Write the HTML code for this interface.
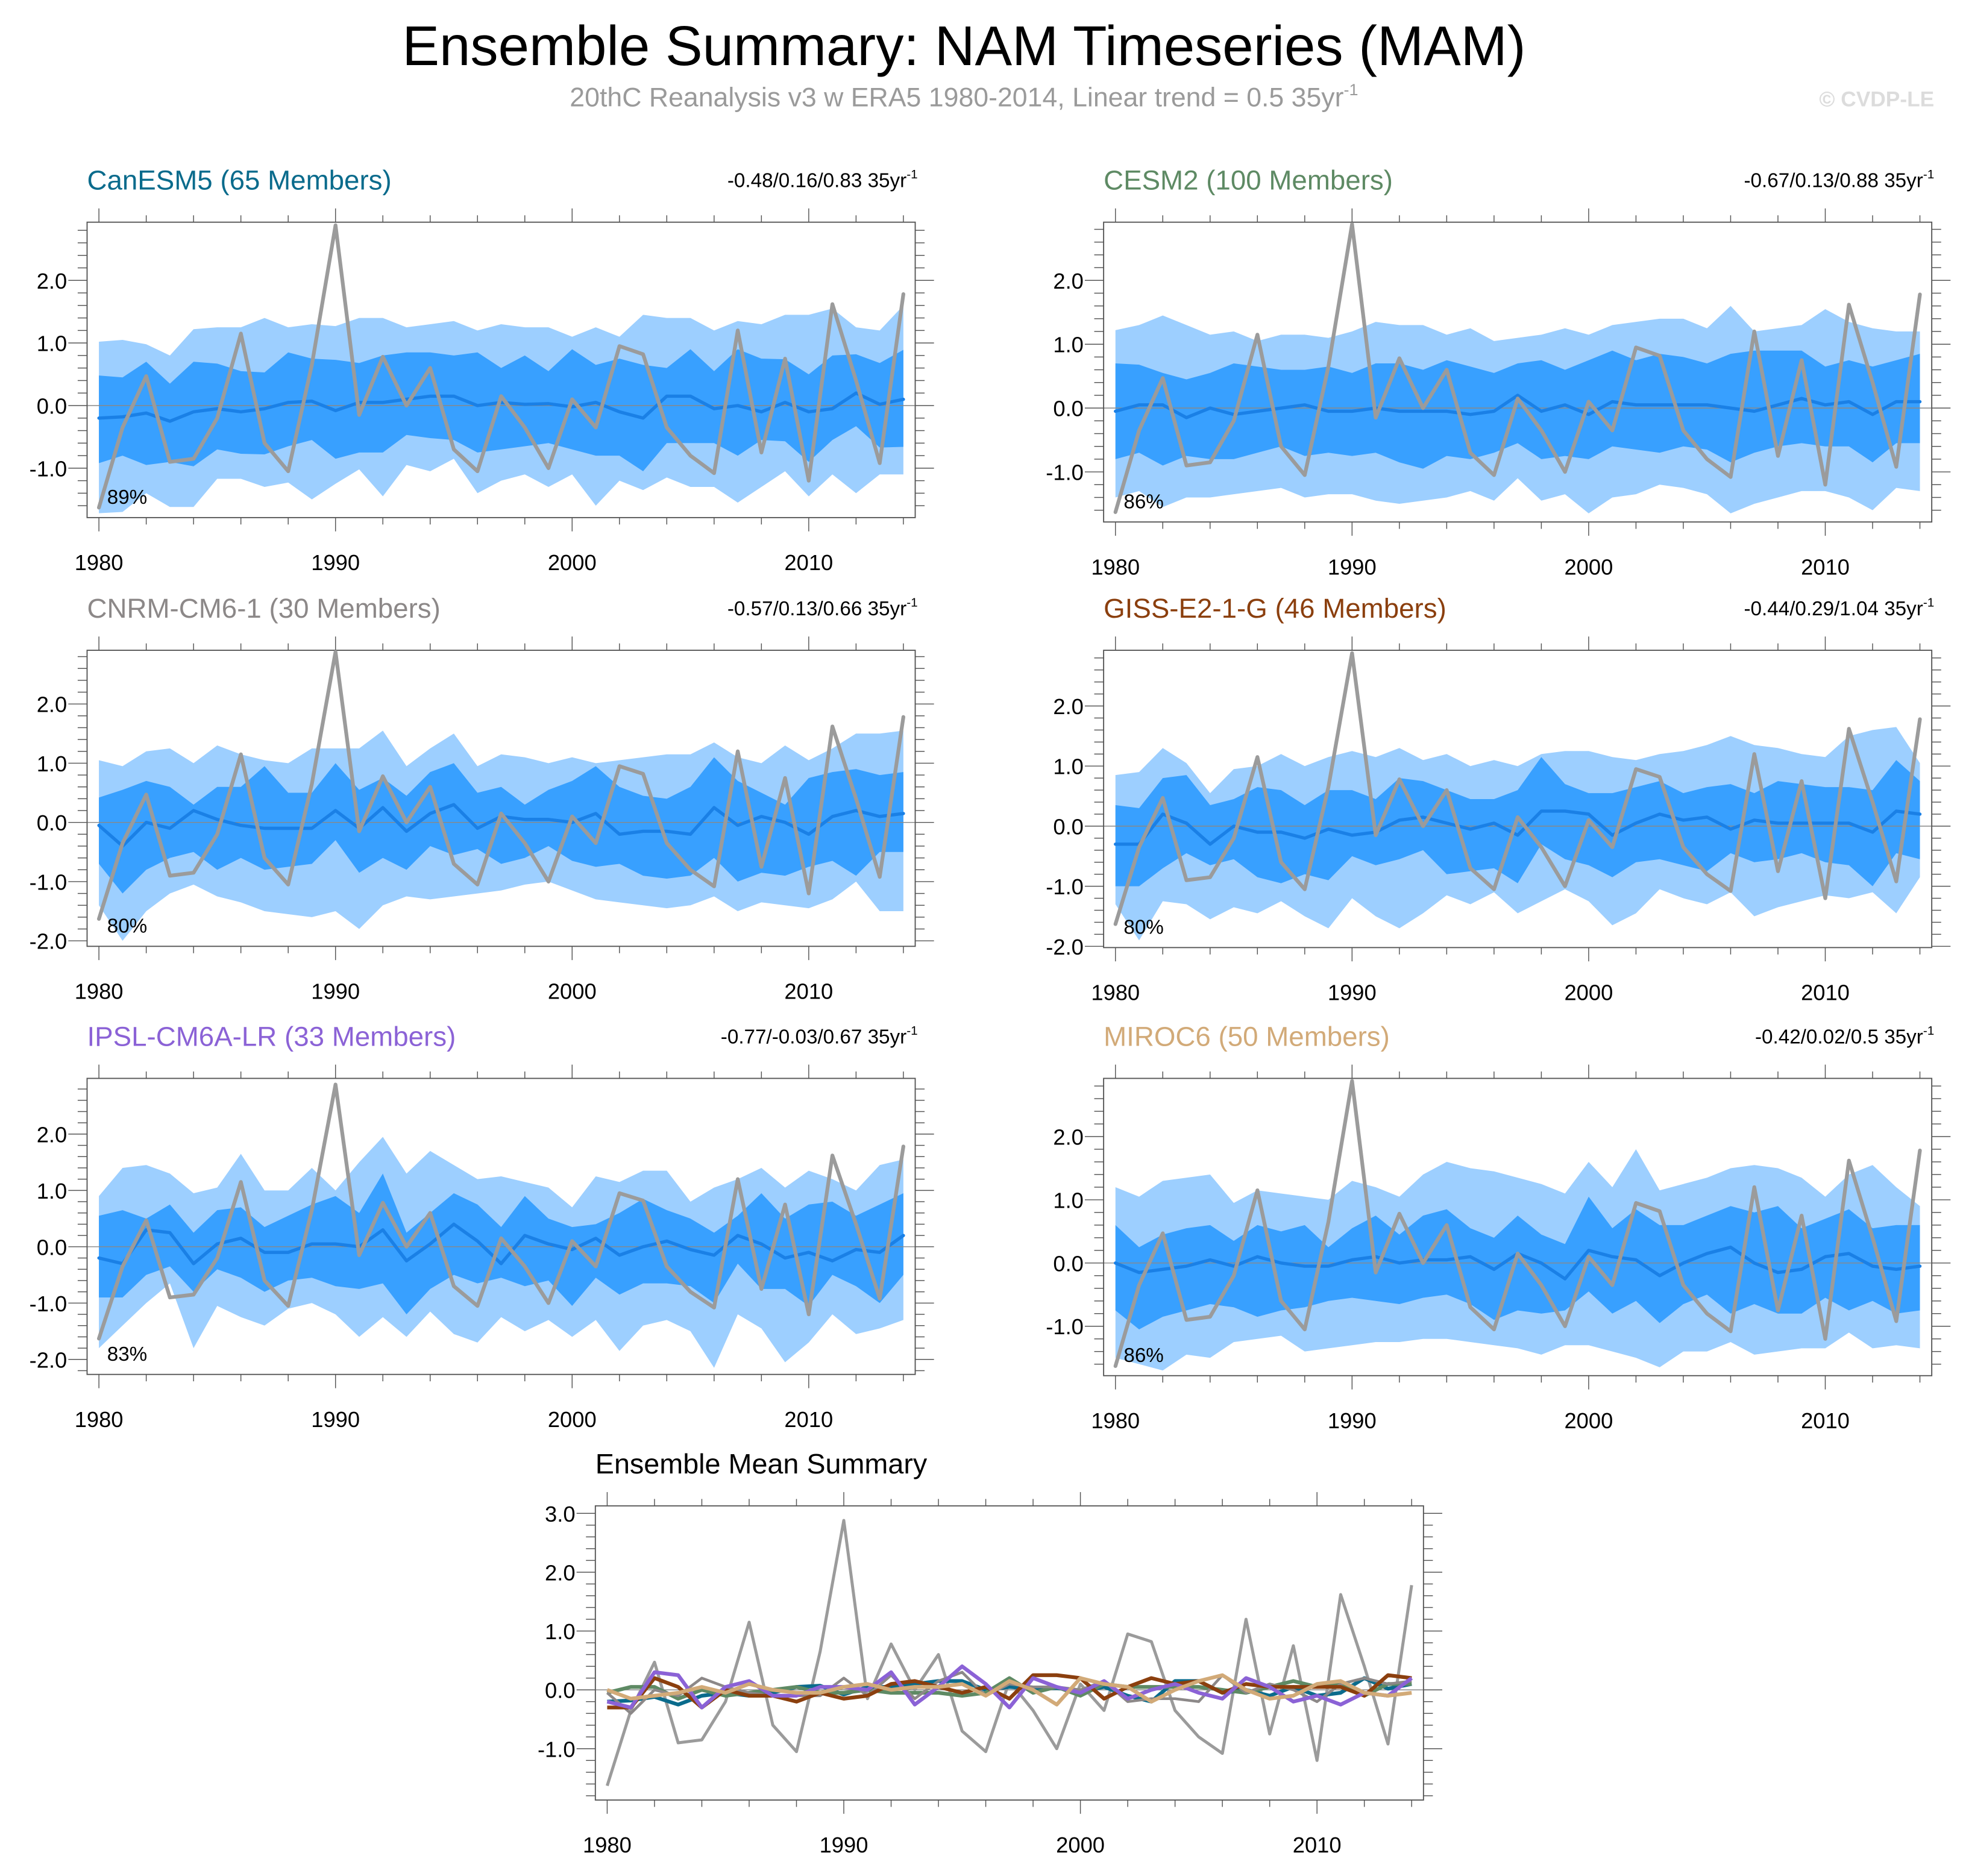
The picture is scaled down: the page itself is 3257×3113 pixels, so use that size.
<!DOCTYPE html>
<html><head><meta charset="utf-8"><style>
html,body{margin:0;padding:0;background:#fff;}
svg{display:block;font-family:"Liberation Sans",sans-serif;}
</style></head><body>
<svg id="chart" xmlns="http://www.w3.org/2000/svg" width="3257" height="3113" viewBox="0 0 1568 1498.7">
<rect width="1568" height="1499" fill="#fff"/>
<text x="770" y="52" text-anchor="middle" font-size="44.5">Ensemble Summary: NAM Timeseries (MAM)</text>
<text x="770" y="85" text-anchor="middle" font-size="21.5" fill="#9a9a9a">20thC Reanalysis v3 w ERA5 1980-2014, Linear trend = 0.5 35yr<tspan dy="-9" font-size="13">-1</tspan></text>
<text x="1545" y="85" text-anchor="end" font-size="17" font-weight="bold" fill="#dcdcdc">© CVDP-LE</text>
<g id="panels"></g>
</svg>
<script>
const years = Array.from({length:35},(_, i)=>1980+i);
const obs = [-1.63,-0.35,0.47,-0.9,-0.85,-0.2,1.15,-0.6,-1.05,0.65,2.88,-0.15,0.78,0.0,0.6,-0.7,-1.05,0.15,-0.35,-1.0,0.1,-0.35,0.95,0.82,-0.35,-0.8,-1.08,1.2,-0.75,0.75,-1.2,1.62,0.4,-0.92,1.78];

const canMean=[-0.2,-0.18,-0.12,-0.25,-0.1,-0.05,-0.1,-0.05,0.05,0.07,-0.08,0.05,0.05,0.1,0.15,0.15,0,0.05,0.02,0.03,-0.02,0.05,-0.1,-0.2,0.15,0.15,-0.05,0,-0.1,0.05,-0.1,-0.05,0.2,0.02,0.1];
const canOutHi=[1.02,1.05,0.98,0.8,1.22,1.25,1.25,1.4,1.25,1.3,1.27,1.4,1.4,1.25,1.3,1.35,1.2,1.3,1.25,1.25,1.1,1.25,1.1,1.45,1.4,1.4,1.2,1.35,1.3,1.45,1.45,1.55,1.25,1.2,1.6];
const canOutLo=[-1.72,-1.7,-1.4,-1.62,-1.62,-1.17,-1.17,-1.3,-1.23,-1.5,-1.25,-1.02,-1.45,-0.95,-1.05,-0.85,-1.4,-1.2,-1.1,-1.3,-1.1,-1.6,-1.2,-1.35,-1.15,-1.3,-1.3,-1.55,-1.3,-1.05,-1.45,-1.1,-1.4,-1.1,-1.1];
const canInHi=[0.48,0.45,0.7,0.35,0.7,0.67,0.55,0.53,0.85,0.75,0.73,0.68,0.8,0.85,0.85,0.8,0.85,0.6,0.8,0.55,0.9,0.65,0.75,0.65,0.6,0.9,0.55,0.9,0.75,0.74,0.5,0.8,0.82,0.68,0.89];
const canInLo=[-0.92,-0.8,-0.95,-0.9,-0.97,-0.7,-0.77,-0.78,-0.65,-0.55,-0.85,-0.75,-0.75,-0.47,-0.52,-0.55,-0.75,-0.7,-0.65,-0.6,-0.7,-0.8,-0.8,-1.05,-0.6,-0.6,-0.6,-0.8,-0.55,-0.57,-0.9,-0.55,-0.33,-0.67,-0.66];

const cesmMean=[-0.05,0.05,0.05,-0.15,0,-0.1,-0.05,0,0.05,-0.05,-0.05,0,-0.05,-0.05,-0.05,-0.1,-0.05,0.2,-0.05,0.05,-0.1,0.1,0.05,0.05,0.05,0.05,0,-0.05,0.05,0.15,0.05,0.1,-0.1,0.1,0.1];
const cesmOutHi=[1.22,1.3,1.45,1.3,1.15,1.2,1.05,1.15,1.15,1.1,1.2,1.35,1.3,1.3,1.15,1.25,1.05,1.1,1.15,1.25,1.15,1.3,1.35,1.4,1.4,1.25,1.6,1.2,1.25,1.3,1.55,1.35,1.25,1.2,1.2];
const cesmOutLo=[-1.4,-1.3,-1.55,-1.4,-1.4,-1.35,-1.3,-1.25,-1.4,-1.35,-1.35,-1.45,-1.5,-1.45,-1.4,-1.3,-1.45,-1.1,-1.45,-1.35,-1.65,-1.4,-1.35,-1.2,-1.25,-1.35,-1.65,-1.5,-1.4,-1.3,-1.3,-1.4,-1.6,-1.25,-1.3];
const cesmInHi=[0.7,0.68,0.55,0.45,0.55,0.7,0.65,0.6,0.6,0.65,0.55,0.7,0.7,0.6,0.75,0.65,0.55,0.7,0.75,0.6,0.75,0.9,0.75,0.85,0.8,0.7,0.85,0.9,0.9,0.9,0.65,0.75,0.65,0.75,0.85];
const cesmInLo=[-0.8,-0.7,-0.9,-0.75,-0.8,-0.8,-0.7,-0.6,-0.75,-0.7,-0.75,-0.7,-0.85,-0.95,-0.75,-0.8,-0.7,-0.55,-0.8,-0.75,-0.8,-0.6,-0.65,-0.7,-0.6,-0.65,-0.85,-0.7,-0.6,-0.55,-0.6,-0.6,-0.85,-0.55,-0.55];

const cnrmMean=[-0.05,-0.4,0,-0.1,0.2,0.05,-0.05,-0.1,-0.1,-0.1,0.2,-0.1,0.25,-0.15,0.15,0.3,-0.1,0.1,0.05,0.05,0,0.15,-0.2,-0.15,-0.15,-0.2,0.25,-0.05,0.1,0,-0.2,0.1,0.2,0.1,0.15];
const cnrmOutHi=[1.05,0.95,1.2,1.25,1.0,1.3,1.15,1.05,1.0,1.25,1.25,1.25,1.55,0.95,1.25,1.5,0.95,1.15,1.1,1.0,1.1,1.0,1.05,1.1,1.15,1.15,1.35,1.1,1.0,1.3,1.05,1.25,1.5,1.5,1.55];
const cnrmOutLo=[-1.4,-2.0,-1.5,-1.2,-1.05,-1.25,-1.35,-1.5,-1.55,-1.6,-1.5,-1.8,-1.4,-1.25,-1.3,-1.25,-1.2,-1.15,-1.05,-1.0,-1.15,-1.3,-1.35,-1.4,-1.45,-1.4,-1.25,-1.5,-1.35,-1.4,-1.45,-1.3,-1.0,-1.5,-1.5];
const cnrmInHi=[0.42,0.55,0.7,0.6,0.3,0.6,0.6,0.95,0.5,0.5,1.0,0.55,0.75,0.45,0.85,1.0,0.5,0.6,0.3,0.55,0.7,0.95,0.6,0.45,0.4,0.6,1.1,0.7,0.5,0.3,0.75,0.85,0.9,0.8,0.85];
const cnrmInLo=[-0.7,-1.2,-0.8,-0.6,-0.5,-0.8,-0.6,-0.8,-0.75,-0.7,-0.3,-0.85,-0.6,-0.8,-0.4,-0.55,-0.45,-0.7,-0.6,-0.4,-0.65,-0.75,-0.7,-0.9,-0.95,-0.9,-0.6,-1.0,-0.85,-0.9,-0.75,-0.65,-0.9,-0.5,-0.5];

const gissMean=[-0.3,-0.3,0.2,0.05,-0.3,0,-0.1,-0.1,-0.2,-0.05,-0.15,-0.1,0.1,0.15,0.05,-0.05,0.05,-0.15,0.25,0.25,0.2,-0.15,0.05,0.2,0.1,0.15,-0.05,0.1,0.05,0.05,0.05,0.05,-0.1,0.25,0.2];
const gissOutHi=[0.85,0.9,1.3,1.05,0.55,0.95,1.0,1.2,1.0,1.15,1.25,1.15,1.3,1.1,1.2,1.0,1.1,1.0,1.2,1.25,1.25,1.15,1.1,1.2,1.25,1.35,1.5,1.35,1.3,1.2,1.15,1.5,1.6,1.65,1.05];
const gissOutLo=[-1.3,-1.9,-1.25,-1.3,-1.55,-1.35,-1.45,-1.25,-1.5,-1.7,-1.2,-1.5,-1.7,-1.45,-1.15,-1.3,-1.1,-1.45,-1.25,-1.05,-1.25,-1.65,-1.45,-1.05,-1.2,-1.3,-1.1,-1.5,-1.35,-1.25,-1.15,-1.2,-1.1,-1.45,-0.85];
const gissInHi=[0.35,0.3,0.8,0.85,0.35,0.45,0.65,0.6,0.35,0.6,0.6,0.45,0.8,0.75,0.6,0.45,0.45,0.6,1.15,0.7,0.55,0.55,0.65,0.75,0.55,0.65,0.7,0.55,0.75,0.7,0.65,0.65,0.6,1.1,0.75];
const gissInLo=[-1.0,-1.0,-0.7,-0.45,-0.65,-0.55,-0.85,-0.95,-0.8,-0.9,-0.5,-0.65,-0.55,-0.4,-0.8,-0.75,-0.7,-0.95,-0.3,-0.55,-0.65,-0.85,-0.6,-0.55,-0.65,-0.75,-0.45,-0.6,-0.55,-0.45,-0.6,-0.65,-1.0,-0.45,-0.55];

const ipslMean=[-0.2,-0.3,0.3,0.25,-0.3,0.05,0.15,-0.1,-0.1,0.05,0.05,0.0,0.3,-0.25,0.05,0.4,0.1,-0.3,0.2,0.05,-0.05,0.15,-0.15,0.0,0.1,-0.05,-0.15,0.2,0.05,-0.2,-0.1,-0.25,-0.05,-0.1,0.2];
const ipslOutHi=[0.9,1.4,1.45,1.3,0.95,1.05,1.65,1.0,1.0,1.4,1.0,1.5,1.95,1.3,1.7,1.45,1.2,1.25,1.15,1.05,0.7,1.25,1.15,1.35,1.35,0.8,1.05,1.2,1.4,1.05,1.35,1.2,1.0,1.45,1.55];
const ipslOutLo=[-1.8,-1.4,-1.0,-0.65,-1.8,-1.05,-1.25,-1.4,-1.1,-1.0,-1.2,-1.6,-1.25,-1.6,-1.15,-1.55,-1.7,-1.25,-1.5,-1.3,-1.6,-1.3,-1.85,-1.4,-1.3,-1.5,-2.15,-1.2,-1.45,-2.05,-1.7,-1.2,-1.55,-1.45,-1.3];
const ipslInHi=[0.55,0.65,0.5,0.75,0.25,0.65,0.7,0.35,0.55,0.75,0.9,0.6,1.3,0.25,0.6,0.95,0.75,0.35,0.9,0.5,0.35,0.4,0.6,0.85,0.65,0.5,0.25,0.55,0.95,0.5,0.75,0.8,0.55,0.75,0.95];
const ipslInLo=[-0.9,-0.9,-0.5,-0.35,-0.8,-0.4,-0.55,-0.8,-0.6,-0.55,-0.7,-0.75,-0.65,-1.2,-0.75,-0.5,-0.65,-0.55,-0.7,-0.6,-1.05,-0.55,-0.85,-0.65,-0.65,-0.7,-1.0,-0.3,-0.75,-0.75,-1.05,-0.5,-0.7,-1.0,-0.5];

const mirocMean=[0,-0.15,-0.1,-0.05,0.05,-0.05,0.1,0,-0.05,-0.05,0.05,0.1,0,0.05,0.05,0.1,-0.1,0.15,0,-0.25,0.2,0.1,0.05,-0.2,0,0.15,0.25,0,-0.15,-0.1,0.1,0.15,-0.05,-0.1,-0.05];
const mirocOutHi=[1.2,1.05,1.3,1.35,1.4,0.95,1.15,1.1,1.05,1.0,1.3,1.2,1.05,1.4,1.6,1.5,1.45,1.35,1.25,1.1,1.6,1.2,1.8,1.15,1.25,1.35,1.5,1.55,1.5,1.35,1.05,1.4,1.55,1.2,0.9];
const mirocOutLo=[-1.5,-1.6,-1.7,-1.45,-1.5,-1.25,-1.2,-1.15,-1.4,-1.35,-1.3,-1.25,-1.25,-1.2,-1.2,-1.25,-1.3,-1.35,-1.45,-1.3,-1.3,-1.4,-1.5,-1.65,-1.4,-1.4,-1.25,-1.45,-1.4,-1.35,-1.35,-1.1,-1.35,-1.3,-1.35];
const mirocInHi=[0.6,0.25,0.45,0.55,0.6,0.35,0.6,0.5,0.6,0.25,0.55,0.75,0.45,0.75,0.85,0.55,0.4,0.75,0.45,0.3,1.05,0.55,0.85,0.6,0.6,0.75,0.9,0.8,0.9,0.55,0.7,0.85,0.55,0.6,0.6];
const mirocInLo=[-0.75,-1.05,-0.85,-0.75,-0.65,-0.7,-0.85,-0.75,-0.7,-0.6,-0.55,-0.6,-0.65,-0.55,-0.5,-0.65,-0.9,-0.75,-0.8,-0.75,-0.45,-0.8,-0.6,-0.95,-0.65,-0.5,-0.8,-0.65,-0.8,-0.8,-0.55,-0.75,-0.6,-0.8,-0.75];

const modelNames=["CanESM5 (65 Members)","CESM2 (100 Members)","CNRM-CM6-1 (30 Members)","GISS-E2-1-G (46 Members)","IPSL-CM6A-LR (33 Members)","MIROC6 (50 Members)"];
const modelColors=["#0a6b8c","#5e8a64","#8c8888","#8b3f0e","#8b62d6","#d2aa78"];
const trendLabels=["-0.48/0.16/0.83","-0.67/0.13/0.88","-0.57/0.13/0.66","-0.44/0.29/1.04","-0.77/-0.03/0.67","-0.42/0.02/0.5"];
const pctLabels=["89%","86%","80%","80%","83%","86%"];
const xTickLabels=[1980,1990,2000,2010];
const yLabelSets=[[-1,0,1,2],[-1,0,1,2],[-2,-1,0,1,2],[-2,-1,0,1,2],[-2,-1,0,1,2],[-1,0,1,2]];

const means=[canMean,cesmMean,cnrmMean,gissMean,ipslMean,mirocMean];
const outHi=[canOutHi,cesmOutHi,cnrmOutHi,gissOutHi,ipslOutHi,mirocOutHi];
const outLo=[canOutLo,cesmOutLo,cnrmOutLo,gissOutLo,ipslOutLo,mirocOutLo];
const inHi=[canInHi,cesmInHi,cnrmInHi,gissInHi,ipslInHi,mirocInHi];
const inLo=[canInLo,cesmInLo,cnrmInLo,gissInLo,ipslInLo,mirocInLo];

const NS="http://www.w3.org/2000/svg";
const root=document.getElementById('panels');
function mk(tag,attrs,parent,text){const e=document.createElementNS(NS,tag);for(const k in attrs)e.setAttribute(k,attrs[k]);if(text!==undefined)e.textContent=text;parent.appendChild(e);return e;}

const geo=[
 {x0:79,top:177.5,bot:413.5,zero:324,ppu:50},
 {x0:891,top:177.5,bot:417,zero:326,ppu:51},
 {x0:79,top:519.5,bot:756,zero:657,ppu:47.3},
 {x0:891,top:519.5,bot:757,zero:660,ppu:48},
 {x0:79,top:861.5,bot:1098,zero:996,ppu:45},
 {x0:891,top:861.5,bot:1099,zero:1009,ppu:50.5}
];
const PPY=18.9;

function drawAxes(g,gm,yLabels){
  const xs=y=>gm.x0+(y-1980)*PPY;
  const ys=v=>gm.zero-v*gm.ppu;
  const L=xs(1979.5),R=xs(2014.5);
  const zl=mk('line',{x1:L,x2:R,y1:ys(0),y2:ys(0),stroke:'#888','stroke-width':0.7},g);
  
  
  mk('rect',{x:L,y:gm.top,width:R-L,height:gm.bot-gm.top,fill:'none',stroke:'#555','stroke-width':0.9},g);
  for(let y=1980;y<=2014;y+=2){
    const maj=(y%10===0);const len=maj?11:5.5;
    mk('line',{x1:xs(y),x2:xs(y),y1:gm.top,y2:gm.top-len,stroke:'#555','stroke-width':0.7},g);
    mk('line',{x1:xs(y),x2:xs(y),y1:gm.bot,y2:gm.bot+len,stroke:'#555','stroke-width':0.7},g);
  }
  xTickLabels.forEach(t=>{
    const tx=mk('text',{x:xs(t),y:gm.bot+42,'text-anchor':'middle','font-size':17.5},g,String(t));
    
    
  });
  const vmin=(gm.zero-gm.bot)/gm.ppu, vmax=(gm.zero-gm.top)/gm.ppu;
  for(let k=Math.ceil(vmin*5-1e-6);k<=Math.floor(vmax*5+1e-6);k++){
    const v=k/5;const maj=(k%5===0);const len=maj?15:7.5;
    mk('line',{x1:L,x2:L-len,y1:ys(v),y2:ys(v),stroke:'#555','stroke-width':0.7},g);
    mk('line',{x1:R,x2:R+len,y1:ys(v),y2:ys(v),stroke:'#555','stroke-width':0.7},g);
  }
  yLabels.forEach(v=>{
    const tx=mk('text',{x:L-16,y:ys(v)+6.5,'text-anchor':'end','font-size':17.5},g,v.toFixed(1));
    
    
  });
  return {xs,ys,L,R};
}
function linePath(arr,xs,ys){return arr.map((v,i)=>(i?'L':'M')+xs(years[i]).toFixed(2)+','+ys(v).toFixed(2)).join('');}
function bandPath(hi,lo,xs,ys){
  let d=hi.map((v,i)=>(i?'L':'M')+xs(years[i]).toFixed(2)+','+ys(v).toFixed(2)).join('');
  for(let i=lo.length-1;i>=0;i--)d+='L'+xs(years[i]).toFixed(2)+','+ys(lo[i]).toFixed(2);
  return d+'Z';
}

for(let p=0;p<6;p++){
  const gm=geo[p];
  const g=mk('g',{},root);
  
  
  const xs=y=>gm.x0+(y-1980)*PPY, ys=v=>gm.zero-v*gm.ppu;
  const ob=mk('path',{d:bandPath(outHi[p],outLo[p],xs,ys),fill:'#9dcfff'},g);
  
  
  const ib=mk('path',{d:bandPath(inHi[p],inLo[p],xs,ys),fill:'#38a0ff'},g);
  
  
  const ax=drawAxes(g,gm,yLabelSets[p]);
  const ml=mk('path',{d:linePath(means[p],xs,ys),fill:'none',stroke:'#1a80e6','stroke-width':2.6,'stroke-linejoin':'round','stroke-linecap':'round'},g);
  
  
  const ol=mk('path',{d:linePath(obs,xs,ys),fill:'none',stroke:'#9b9b9b','stroke-width':3,'stroke-linejoin':'round','stroke-linecap':'round'},g);
  
  
  const ti=mk('text',{x:ax.L,y:gm.top-26,'font-size':22,fill:modelColors[p]},g,modelNames[p]);
  
  
  const tr=mk('text',{x:ax.R+2,y:gm.top-28,'text-anchor':'end','font-size':16},g);
  
  
  tr.appendChild(document.createTextNode(trendLabels[p]+' 35yr'));
  mk('tspan',{dy:-7,'font-size':10},tr,'-1');
  const pc=mk('text',{x:ax.L+16,y:gm.bot-11,'font-size':16},g,pctLabels[p]);
  
  
}

const bgm={x0:485,top:1203,bot:1438,zero:1350,ppu:47};
const bg=mk('g',{},root);


const bax=drawAxes(bg,bgm,[-1,0,1,2,3]);
const bxs=y=>bgm.x0+(y-1980)*PPY, bys=v=>bgm.zero-v*bgm.ppu;
const bo=mk('path',{d:linePath(obs,bxs,bys),fill:'none',stroke:'#9b9b9b','stroke-width':2.4,'stroke-linejoin':'round'},bg);


for(let p=0;p<6;p++){
  const l=mk('path',{d:linePath(means[p],bxs,bys),fill:'none',stroke:modelColors[p],'stroke-width':p===2?2.2:3,'stroke-linejoin':'round'},bg);
  
  
}
const bt=mk('text',{x:bax.L,y:bgm.top-26,'font-size':22.5},bg,'Ensemble Mean Summary');


</script>
</body></html>
